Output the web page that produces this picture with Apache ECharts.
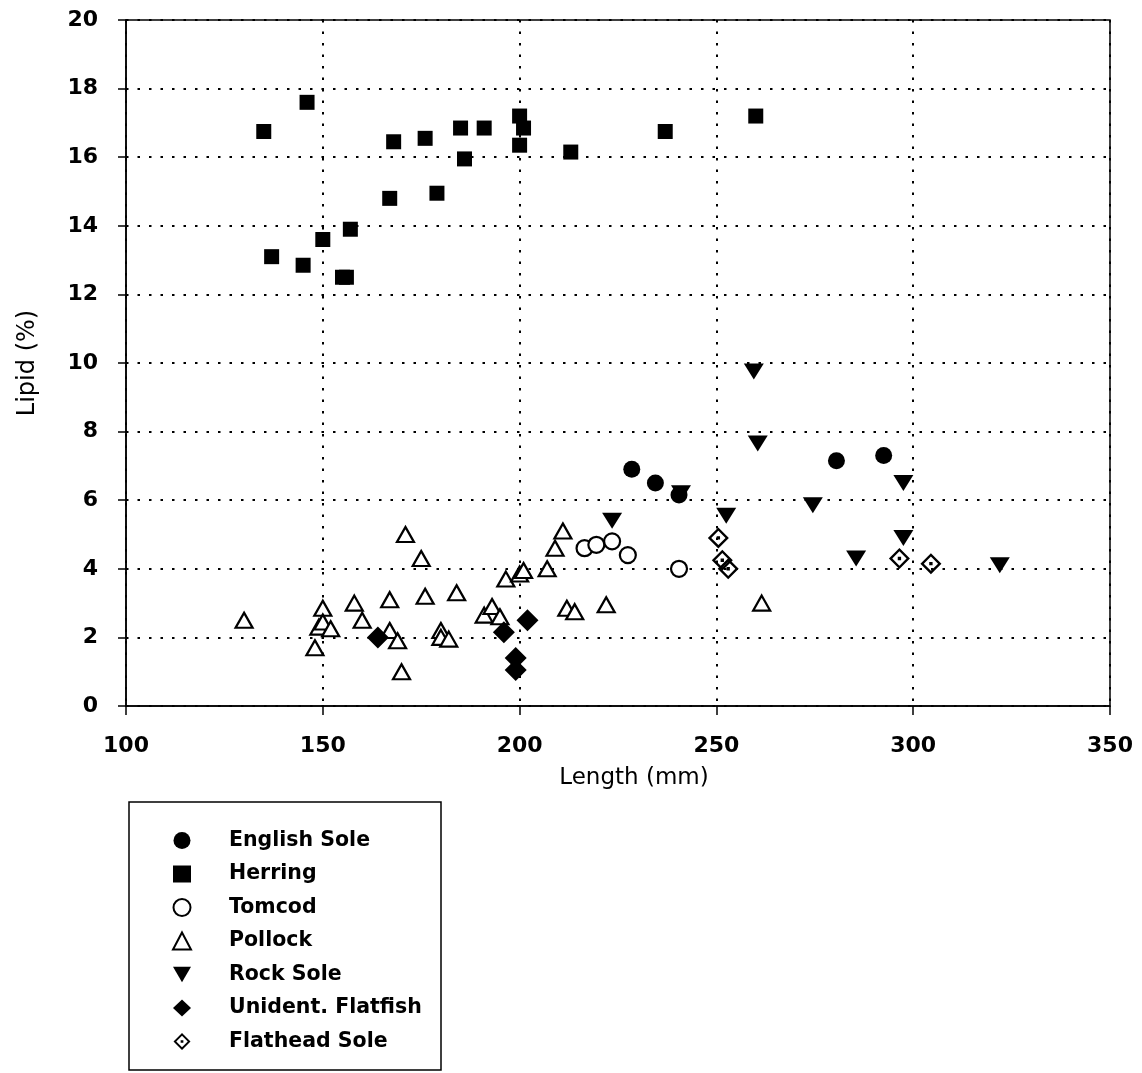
<!DOCTYPE html>
<html>
<head>
<meta charset="utf-8">
<script src="https://cdn.jsdelivr.net/npm/echarts@6/dist/echarts.min.js"></script>
<style>
html,body{margin:0;padding:0;background:#fff;}
#chart{width:1142px;height:1073px;}
</style>
</head>
<body>
<div id="chart"></div>
<script>
// ---- Data (Length mm, Lipid %) ----
var englishSole = [[228.5,6.9],[234.5,6.5],[240.5,6.15],[280.5,7.15],[292.5,7.3]];
var herring = [[135,16.75],[137,13.1],[145,12.85],[146,17.6],[150,13.6],[155,12.5],[156,12.5],[157,13.9],[167,14.8],[168,16.45],[176,16.55],[179,14.95],[185,16.85],[186,15.95],[191,16.85],[200,17.2],[201,16.85],[200,16.35],[213,16.15],[237,16.75],[260,17.2]];
var tomcod = [[216.5,4.6],[219.5,4.7],[223.5,4.8],[227.5,4.4],[240.5,4.0]];
var pollock = [[130,2.5],[148,1.7],[149,2.3],[150,2.85],[150,2.45],[152,2.25],[158,3.0],[160,2.5],[167,3.1],[167,2.2],[169,1.9],[170,1.0],[171,5.0],[175,4.3],[176,3.2],[180,2.2],[180,2.0],[182,1.95],[184,3.3],[191,2.65],[193,2.9],[195,2.6],[196.5,3.7],[200,3.85],[201,3.95],[207,4.0],[209,4.6],[211,5.1],[212,2.85],[214,2.75],[222,2.95],[261.5,3.0]];
var rockSole = [[223.5,5.4],[241,6.2],[252.5,5.55],[259.5,9.75],[260.5,7.65],[274.5,5.85],[285.5,4.3],[297.5,6.5],[297.5,4.9],[322,4.1]];
var unidentFlatfish = [[164,2.0],[196,2.15],[199,1.4],[199,1.05],[202,2.5]];
var flatheadSole = [[250.5,4.9],[251.5,4.25],[253,4.0],[296.5,4.3],[304.5,4.15]];

var seriesNames = ['English Sole','Herring','Tomcod','Pollock','Rock Sole','Unident. Flatfish','Flathead Sole'];
var xTicks = {min:100, max:350, interval:50};
var yTicks = {min:0, max:20, interval:2};

var FONT = 'DejaVu Sans';
var invTri = 'path://M0,0 L20,0 L10,17 Z';
var flatheadPath = 'path://M10,0 L20,10 L10,20 L0,10 Z M10,3.2 L3.2,10 L10,16.8 L16.8,10 Z M8.4,8.4 L11.6,8.4 L11.6,11.6 L8.4,11.6 Z';

var filled = {color:'#000', opacity:1};
var hollow = {color:'#fff', borderColor:'#000', borderWidth:2.2, opacity:1};

var icons = ['circle','rect','circle','triangle',invTri,'diamond',flatheadPath];

var chart = echarts.init(document.getElementById('chart'));
chart.setOption({
  animation:false,
  backgroundColor:'#fff',
  grid:{left:126, right:32, top:20, bottom:367, show:true, borderColor:'#000', borderWidth:1.5, backgroundColor:'transparent'},
  xAxis:{
    type:'value', min:xTicks.min, max:xTicks.max, interval:xTicks.interval,
    name:'Length (mm)', nameLocation:'middle', nameGap:61,
    nameTextStyle:{fontFamily:FONT, fontSize:23, color:'#000', padding:[0,0,0,32]},
    axisLine:{show:true, onZero:false, lineStyle:{color:'#000', width:1.5}},
    axisTick:{show:true, length:9, lineStyle:{color:'#000', width:1.5}},
    axisLabel:{fontFamily:FONT, fontSize:22, fontWeight:'bold', color:'#000', margin:29},
    splitLine:{show:true, lineStyle:{color:'#000', width:2, type:[2.5,9]}}
  },
  yAxis:{
    type:'value', min:yTicks.min, max:yTicks.max, interval:yTicks.interval,
    name:'Lipid (%)', nameLocation:'middle', nameGap:86,
    nameTextStyle:{fontFamily:FONT, fontSize:24, color:'#000'},
    axisLine:{show:true, lineStyle:{color:'#000', width:1.5}},
    axisTick:{show:true, length:8, lineStyle:{color:'#000', width:1.5}},
    axisLabel:{fontFamily:FONT, fontSize:22, fontWeight:'bold', color:'#000', margin:28},
    splitLine:{show:true, lineStyle:{color:'#000', width:2, type:[2.5,9]}}
  },
  legend:{
    orient:'vertical', left:172, top:830, padding:0,
    itemWidth:18, itemHeight:17, itemGap:12.5,
    textStyle:{fontFamily:FONT, fontSize:20.5, fontWeight:'bold', color:'#000', lineHeight:21, padding:[0,0,0,33]},
    selectedMode:false,
    data:seriesNames.map(function(n,i){return {name:n, icon:icons[i]};})
  },
  graphic:[{type:'rect', shape:{x:129, y:802, width:312, height:268}, style:{fill:'none', stroke:'#000', lineWidth:1.5}, z:-1}],
  series:[
    {name:seriesNames[0], type:'scatter', data:englishSole, symbol:icons[0], symbolSize:17, itemStyle:filled},
    {name:seriesNames[1], type:'scatter', data:herring, symbol:icons[1], symbolSize:15, itemStyle:filled},
    {name:seriesNames[2], type:'scatter', data:tomcod, symbol:icons[2], symbolSize:16, itemStyle:hollow},
    {name:seriesNames[3], type:'scatter', data:pollock, symbol:icons[3], symbolSize:[17,15], itemStyle:hollow},
    {name:seriesNames[4], type:'scatter', data:rockSole, symbol:icons[4], symbolSize:[20,16], symbolKeepAspect:false, itemStyle:filled},
    {name:seriesNames[5], type:'scatter', data:unidentFlatfish, symbol:icons[5], symbolSize:22, itemStyle:filled},
    {name:seriesNames[6], type:'scatter', data:flatheadSole, symbol:icons[6], symbolSize:21, itemStyle:filled}
  ]
});
</script>
</body>
</html>
